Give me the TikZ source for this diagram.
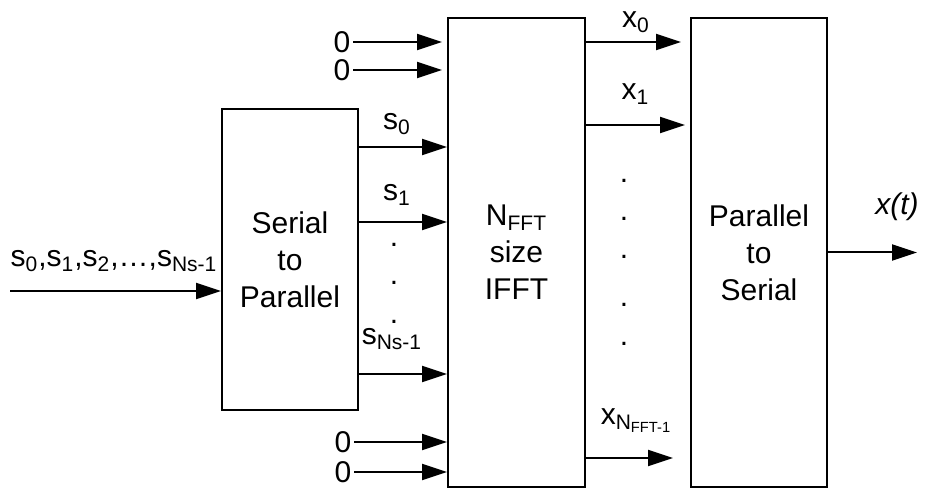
\documentclass[tikz,border=0pt]{standalone}
\usepackage{fontspec}
\setmainfont{Liberation Sans}
\usepackage{tikz}
\usetikzlibrary{arrows.meta}

\begin{document}
\begin{tikzpicture}[x=0.5pt,y=-0.5pt,line width=1pt,
    font=\fontsize{15}{18.5}\selectfont,
    blk/.style={draw,align=center,inner sep=0pt},
    lbl/.style={inner sep=1pt},
    sig/.style={-{Triangle[length=12.5pt,width=8pt]}}]
  \useasboundingbox (0,0) rectangle (926,490);
  % --- Bloques ---
  \node[blk,minimum width=68pt,minimum height=150.5pt] (sp) at (290,259.5) {Serial\\to\\Parallel};
  \node[blk,minimum width=68.5pt,minimum height=234.5pt] (ifft) at (516.5,252.5) {N\textsubscript{FFT}\\size\\IFFT};
  \node[blk,minimum width=68pt,minimum height=234.5pt] (ps) at (759,252.5) {Parallel\\to\\Serial};
  % --- Entrada ---
  \coordinate (in) at (10,291);
  \draw[sig] (in) -- (in -| sp.west);
  \node[lbl,anchor=base] (inlbl) at (114,267) {s\textsubscript{0},s\textsubscript{1},s\textsubscript{2},\ldots,s\textsubscript{Ns-1}};
  % --- Ceros ---
  \node[lbl] (z1) at (342,42) {0};
  \draw[sig,shorten >=2.5pt] (z1.east) -- (z1.east -| ifft.west);
  \node[lbl] (z2) at (342,70) {0};
  \draw[sig,shorten >=2.5pt] (z2.east) -- (z2.east -| ifft.west);
  \node[lbl] (z3) at (343,442) {0};
  \draw[sig] (z3.east) -- (z3.east -| ifft.west);
  \node[lbl] (z4) at (343,472) {0};
  \draw[sig] (z4.east) -- (z4.east -| ifft.west);
  % --- Salidas S/P ---
  \coordinate (a0) at (358,147);
  \draw[sig] (a0) -- (a0 -| ifft.west);
  \node[lbl,anchor=base] (s0) at (397,130) {s\textsubscript{0}};
  \coordinate (a1) at (358,222);
  \draw[sig] (a1) -- (a1 -| ifft.west);
  \node[lbl,anchor=base] (s1) at (397,201) {s\textsubscript{1}};
  \coordinate (an) at (358,374);
  \draw[sig] (an) -- (an -| ifft.west);
  \node[lbl,anchor=base] (sn) at (392,345) {s\textsubscript{Ns-1}};
  \foreach \y in {245,283,322}
    \node[lbl] (sd\y) at (394,\y) {.};
  % --- Salidas IFFT ---
  \coordinate (b0) at (585,42);
  \draw[sig,shorten >=4.5pt] (b0) -- (b0 -| ps.west);
  \node[lbl,anchor=base] (x0) at (636,28) {x\textsubscript{0}};
  \coordinate (b1) at (585,125);
  \draw[sig,shorten >=2.5pt] (b1) -- (b1 -| ps.west);
  \node[lbl,anchor=base] (x1) at (635.5,100) {x\textsubscript{1}};
  \coordinate (bn) at (585,458);
  \draw[sig,shorten >=8.5pt] (bn) -- (bn -| ps.west);
  \node[lbl,anchor=base] (xn) at (636.5,425) {x\textsubscript{N\textsubscript{FFT-1}}};
  \foreach \y in {181,219,257,305,344}
    \node[lbl] (xd\y) at (624,\y) {.};
  % --- Salida ---
  \coordinate (out) at (917,252.5);
  \draw[sig] (ps.east) -- (out);
  \node[lbl,anchor=base] (xt) at (897,215) {\textit{x(t)}};
\end{tikzpicture}
\end{document}
